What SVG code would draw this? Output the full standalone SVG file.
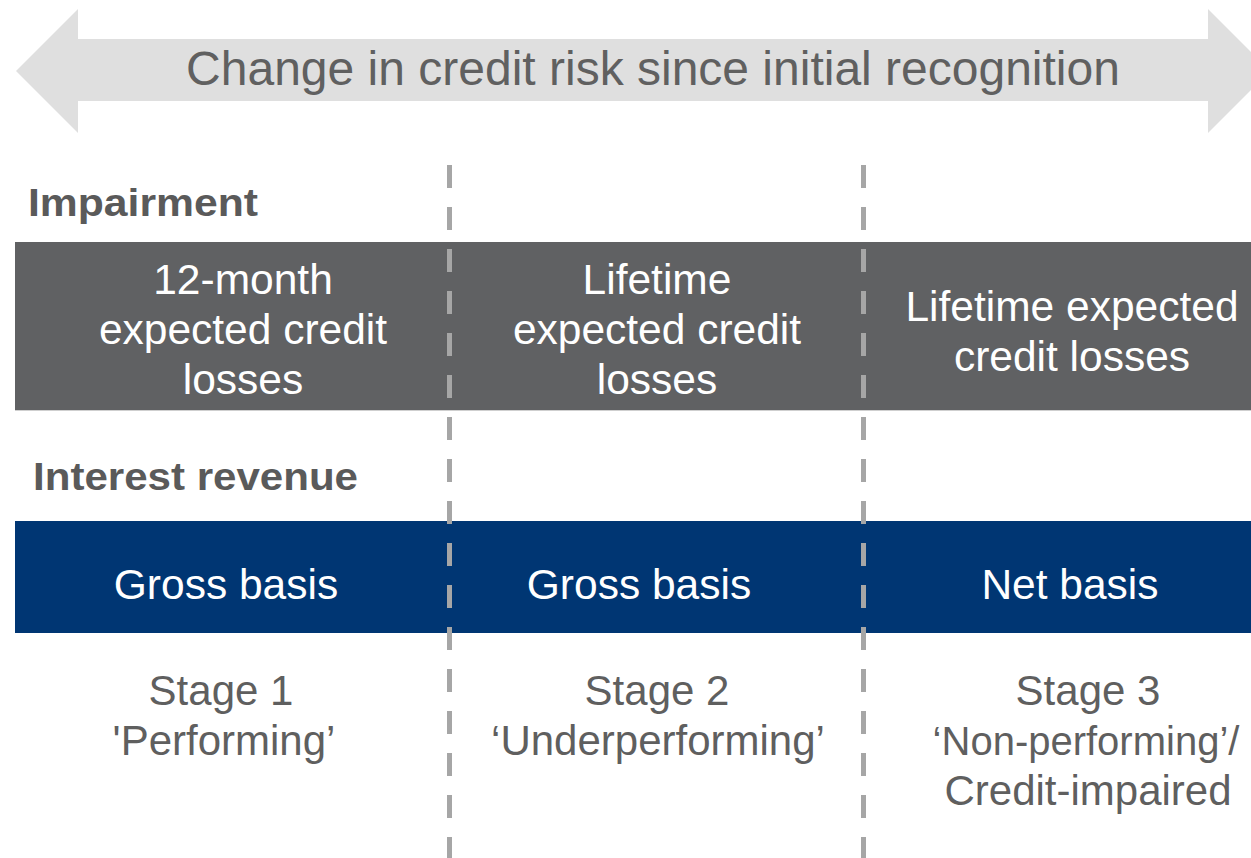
<svg xmlns="http://www.w3.org/2000/svg" width="1251" height="858" viewBox="0 0 1251 858">
<style>
.t{font-family:"Liberation Sans",Arial,sans-serif;text-anchor:middle}
.w{fill:#ffffff;font-size:42.5px}
.g{fill:#5f5f5f;font-size:42px}
.h{font-family:"Liberation Sans",Arial,sans-serif;font-weight:bold;font-size:38px;fill:#5a5a5a}
.dash{stroke:#a6a6a6;stroke-width:5;stroke-dasharray:23 19;fill:none}
</style>
<rect width="1251" height="858" fill="#ffffff"/>
<g id="arrow">
<polygon points="16,71 78,9 78,39 1208,39 1208,9 1270,71 1208,133 1208,101 78,101 78,133" fill="#dfdfdf"/>
<text class="t" x="653" y="85" font-size="48" fill="#606060">Change in credit risk since initial recognition</text>
</g>
<g id="impairment-label"><text class="h" x="28" y="216" textLength="230" lengthAdjust="spacingAndGlyphs">Impairment</text></g>
<g id="impairment-bar">
<rect x="15" y="242" width="1236" height="168" fill="#606163"/>
<line x1="15" y1="410.5" x2="1251" y2="410.5" stroke="#cfcfcf" stroke-width="1"/>
<text class="t w"><tspan x="243" y="294">12-month</tspan><tspan x="243" y="344">expected credit</tspan><tspan x="243" y="394">losses</tspan></text>
<text class="t w"><tspan x="657" y="294">Lifetime</tspan><tspan x="657" y="344">expected credit</tspan><tspan x="657" y="394">losses</tspan></text>
<text class="t w"><tspan x="1072" y="321">Lifetime expected</tspan><tspan x="1072" y="371">credit losses</tspan></text>
</g>
<g id="interest-label"><text class="h" x="33" y="490" textLength="325" lengthAdjust="spacingAndGlyphs">Interest revenue</text></g>
<g id="interest-bar">
<rect x="15" y="521" width="1236" height="112" fill="#003673"/>
<text class="t w" x="226" y="599">Gross basis</text>
<text class="t w" x="639" y="599">Gross basis</text>
<text class="t w" x="1070" y="599">Net basis</text>
</g>
<g id="stage1"><text class="t g"><tspan x="221" y="705">Stage 1</tspan><tspan x="224" y="755">'Performing’</tspan></text></g>
<g id="stage2"><text class="t g"><tspan x="657" y="705">Stage 2</tspan><tspan x="658" y="755">‘Underperforming’</tspan></text></g>
<g id="stage3"><text class="t g"><tspan x="1088" y="705">Stage 3</tspan><tspan x="1086" y="755" font-size="40">‘Non-performing’/</tspan><tspan x="1088" y="805">Credit-impaired</tspan></text></g>
<g id="connectors">
<line class="dash" x1="449.5" y1="165" x2="449.5" y2="858"/>
<line class="dash" x1="863.5" y1="165" x2="863.5" y2="858"/>
</g>
</svg>
